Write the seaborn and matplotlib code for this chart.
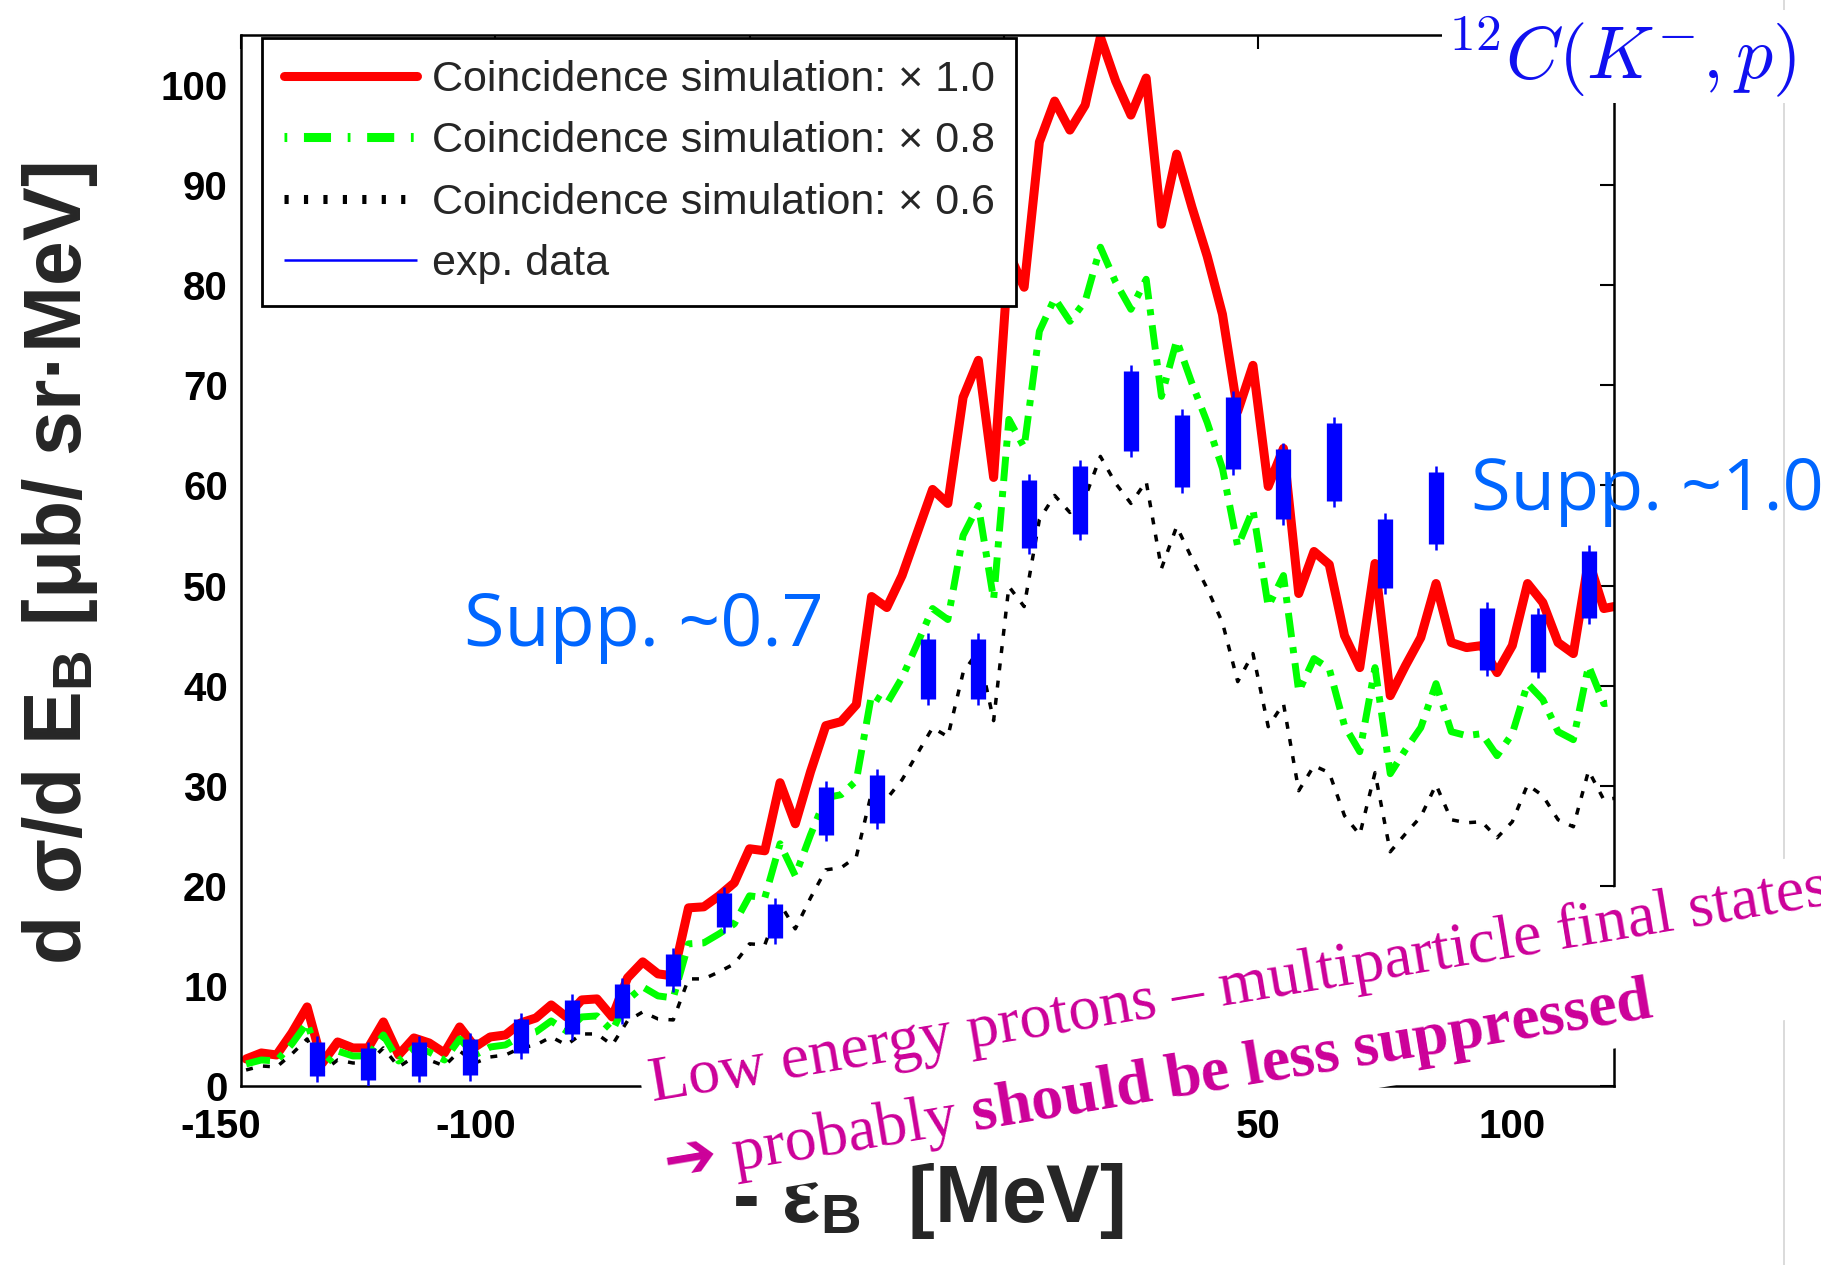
import numpy as np
import pandas as pd
import matplotlib
matplotlib.use("Agg")
import matplotlib.pyplot as plt
from matplotlib.lines import Line2D
from matplotlib.transforms import ScaledTranslation
import seaborn as sns

# ---------------- data ----------------
energy = np.arange(-149, 122, 3)          # bin centres of the simulation, MeV

sim_x10 = [2.7, 3.3, 3.1, 5.3, 7.9, 2.3, 4.4, 3.8, 3.8, 6.4,
           3.1, 4.8, 4.3, 3.3, 5.9, 3.9, 4.9, 5.1, 6.3, 6.8,
           8.1, 6.9, 8.6, 8.7, 6.9, 10.8, 12.4, 11.2, 11.0, 17.8,
           17.9, 19.0, 20.3, 23.7, 23.5, 30.3, 26.2, 31.4, 36.0, 36.4,
           38.1, 48.9, 47.8, 51.0, 55.3, 59.6, 58.2, 68.8, 72.5, 60.8,
           83.2, 79.8, 94.3, 98.4, 95.5, 98.0, 104.8, 100.4, 97.0, 100.7,
           86.1, 93.1, 87.8, 82.9, 77.1, 67.4, 72.0, 59.9, 63.7, 49.2,
           53.4, 52.1, 45.0, 41.8, 52.2, 39.0, 42.0, 44.8, 50.2, 44.3,
           43.8, 44.0, 41.3, 44.0, 50.2, 48.3, 44.3, 43.2, 52.5, 47.7,
           48.0]

sim_x08 = [2.2, 2.6, 2.5, 4.2, 6.3, 1.8, 3.5, 3.0, 3.0, 5.1,
           2.5, 3.8, 3.4, 2.6, 4.7, 3.1, 3.9, 4.1, 5.0, 5.4,
           6.5, 5.5, 6.9, 7.0, 5.5, 8.6, 9.9, 9.0, 8.8, 14.2,
           14.3, 15.2, 16.2, 19.0, 18.8, 24.2, 21.0, 25.1, 28.8, 29.1,
           30.5, 39.1, 38.2, 40.8, 44.2, 47.7, 46.6, 55.0, 58.0, 48.6,
           66.6, 63.8, 75.4, 78.7, 76.4, 78.4, 83.8, 80.3, 77.6, 80.6,
           68.9, 74.5, 70.2, 66.3, 61.7, 53.9, 57.6, 47.9, 51.0, 39.4,
           42.7, 41.7, 36.0, 33.4, 41.8, 31.2, 33.6, 35.8, 40.2, 35.4,
           35.0, 35.2, 33.0, 35.2, 40.2, 38.6, 35.4, 34.6, 42.0, 38.2,
           38.4]

sim_x06 = [1.6, 2.0, 1.9, 3.2, 4.7, 1.4, 2.6, 2.3, 2.3, 3.8,
           1.9, 2.9, 2.6, 2.0, 3.5, 2.3, 2.9, 3.1, 3.8, 4.1,
           4.9, 4.1, 5.2, 5.2, 4.1, 6.5, 7.4, 6.7, 6.6, 10.7,
           10.7, 11.4, 12.2, 14.2, 14.1, 18.2, 15.7, 18.8, 21.6, 21.8,
           22.9, 29.3, 28.7, 30.6, 33.2, 35.8, 34.9, 41.3, 43.5, 36.5,
           49.9, 47.9, 56.6, 59.0, 57.3, 58.8, 62.9, 60.2, 58.2, 60.4,
           51.7, 55.9, 52.7, 49.7, 46.3, 40.4, 43.2, 35.9, 38.2, 29.5,
           32.0, 31.3, 27.0, 25.1, 31.3, 23.4, 25.2, 26.9, 30.1, 26.6,
           26.3, 26.4, 24.8, 26.4, 30.1, 29.0, 26.6, 25.9, 31.5, 28.6,
           28.8]

exp_energy = [-135, -125, -115, -105, -95, -85, -75, -65, -55, -45, -35, -25, -15,
              -5, 5, 15, 25, 35, 45, 55, 65, 75, 85, 95, 105, 115]
exp_sigma = [2.7, 2.2, 2.7, 2.9, 5.0, 6.9, 8.5, 11.6, 17.6, 16.5, 27.5, 28.7, 41.7,
             41.7, 57.1, 58.5, 67.4, 63.4, 65.2, 60.1, 62.3, 53.2, 57.7, 44.7, 44.3, 50.1]
exp_err = [2.3, 2.2, 2.3, 2.4, 2.3, 2.3, 2.3, 2.2, 2.3, 2.3, 3.0, 3.0, 3.6,
           3.6, 4.0, 4.0, 4.6, 4.2, 4.2, 4.1, 4.5, 4.0, 4.2, 3.7, 3.5, 3.9]

series_labels = ["Coincidence simulation: \u00d7 1.0",
                 "Coincidence simulation: \u00d7 0.8",
                 "Coincidence simulation: \u00d7 0.6",
                 "exp. data"]
xtick_vals = [-150, -100, -50, 0, 50, 100]
xtick_text = ["-150", "-100", "", "", "50", "100"]
ytick_vals = [0, 10, 20, 30, 40, 50, 60, 70, 80, 90, 100]

# ---------------- style ----------------
sns.set_style("white")
plt.rcParams.update({
    "font.family": ["Liberation Sans", "DejaVu Sans"],
    "axes.unicode_minus": False,
    "lines.scale_dashes": False,
    "mathtext.fontset": "custom",
    "mathtext.rm": "Liberation Serif",
    "mathtext.it": "Liberation Serif:italic",
    "mathtext.bf": "Liberation Serif:bold",
    "mathtext.sf": "DejaVu Sans",
})

fig = plt.figure(figsize=(18.21, 12.65), dpi=100)
ax = fig.add_axes([0.13235, 0.14150, 0.75398, 0.83083])

sim = pd.DataFrame({"E": energy, "x10": sim_x10, "x08": sim_x08, "x06": sim_x06})
sns.lineplot(data=sim, x="E", y="x10", ax=ax, color="#FF0000", linewidth=6.5,
             label=series_labels[0], errorbar=None, zorder=2)
sns.lineplot(data=sim, x="E", y="x08", ax=ax, color="#00FF00", linewidth=5,
             linestyle=(0, (17.6, 7.2, 4.4, 7.2)), label=series_labels[1],
             errorbar=None, zorder=2.1)
sns.lineplot(data=sim, x="E", y="x06", ax=ax, color="black", linewidth=2.5,
             linestyle=(0, (5, 7.5)), label=series_labels[2], errorbar=None, zorder=2.2)

exp = pd.DataFrame({"E": exp_energy, "y": exp_sigma, "err": exp_err})
lo = exp["y"] - exp["err"]
hi = exp["y"] + exp["err"]
ax.vlines(exp["E"], lo, hi, colors="#0000FF", linewidth=1.8,
          label=series_labels[3], zorder=4)
ax.vlines(exp["E"], lo + 0.6, hi - 0.6, colors="#0000FF", linewidth=11,
          capstyle="butt", zorder=4)

# ---------------- axes ----------------
ax.set_xlim(-150, 120)
ax.set_ylim(0, 105)
ax.set_xticks(xtick_vals, labels=xtick_text)
ax.set_yticks(ytick_vals, labels=[str(v) for v in ytick_vals])
ax.tick_params(axis="both", which="major", direction="in", length=10, width=1.5,
               top=True, right=True, colors="black", labelsize=29)
ax.tick_params(axis="x", pad=15.5)
ax.tick_params(axis="y", pad=9.5)
for lab in ax.get_xticklabels() + ax.get_yticklabels():
    lab.set_fontweight("bold")
for sp in ax.spines.values():
    sp.set_color("black")
    sp.set_linewidth(1.8)

ax.set_xlabel("- \u03b5$_\\mathregular{B}$  [MeV]", fontsize=58, fontweight="bold")
ax.xaxis.set_label_coords(0.5, -0.1294)
ax.xaxis.label.set_verticalalignment("baseline")
ax.set_ylabel("d \u03c3/d E$_\\mathregular{B}$ [\u03bcb/ sr\u00b7MeV]", fontsize=58,
              fontweight="bold")
ax.yaxis.set_label_coords(-0.1165, 0.497)
ax.yaxis.label.set_verticalalignment("baseline")

# ---------------- legend ----------------
handles, labels = ax.get_legend_handles_labels()
leg = ax.legend(handles, labels, loc="upper left", bbox_to_anchor=(0.0153, 0.9971),
                borderaxespad=0.0, frameon=True, fancybox=False, framealpha=1.0,
                edgecolor="black", prop={"family": "Liberation Sans", "size": 31},
                handlelength=3.1, handletextpad=0.34, borderpad=0.5, labelspacing=0.5)
leg.get_frame().set_linewidth(2.0)
lh = leg.legend_handles
lh[1].set_linewidth(6.5)
lh[1].set_linestyle((0, (2, 12, 19.5, 12)))
lh[2].set_linewidth(6.5)
lh[2].set_linestyle((0, (3, 11)))

# ---------------- annotations ----------------
ax.text(-106.2, 44.0, "Supp. ~0.7", fontsize=53, family="Open Sans", color="#0066FF",
        ha="left", va="baseline")
ax.text(91.9, 57.5, "Supp. ~1.0", fontsize=52, family="Open Sans", color="#0066FF",
        ha="left", va="baseline", clip_on=False)

fig.add_artist(Line2D([1784 / 1821, 1784 / 1821], [0, 1], transform=fig.transFigure,
                      color="#D4D4D4", linewidth=1.2, zorder=-1))

fig.text(1446 / 1821, 1 - 78 / 1265, r"$^{12}C(K^{-},p)$", color="#1010F0", fontsize=53,
         math_fontfamily="cm", ha="left", va="baseline",
         bbox=dict(facecolor="white", edgecolor="none", pad=3), zorder=6)

fig.text(663 / 1821, 1 - 1161 / 1265,
         "Low energy protons \u2013 multiparticle final states\n"
         "$\\mathsf{\u2794}$ probably $\\mathbf{should\\ be\\ less\\ suppressed}$",
         fontsize=46, family="Liberation Serif", color="#CC0099", rotation=9.5,
         rotation_mode="anchor", ha="left", va="baseline", linespacing=1.45,
         multialignment="left",
         bbox=dict(facecolor="white", edgecolor="none", pad=6.5), zorder=7)

# negative tick labels sit slightly left of their ticks in the reference
for tick, txt in zip(ax.xaxis.get_major_ticks(), xtick_text):
    if txt.startswith("-"):
        tick.label1.set_transform(tick.label1.get_transform() +
                                  ScaledTranslation(-0.2, 0, fig.dpi_scale_trans))

fig.savefig("out.png", dpi=100)
